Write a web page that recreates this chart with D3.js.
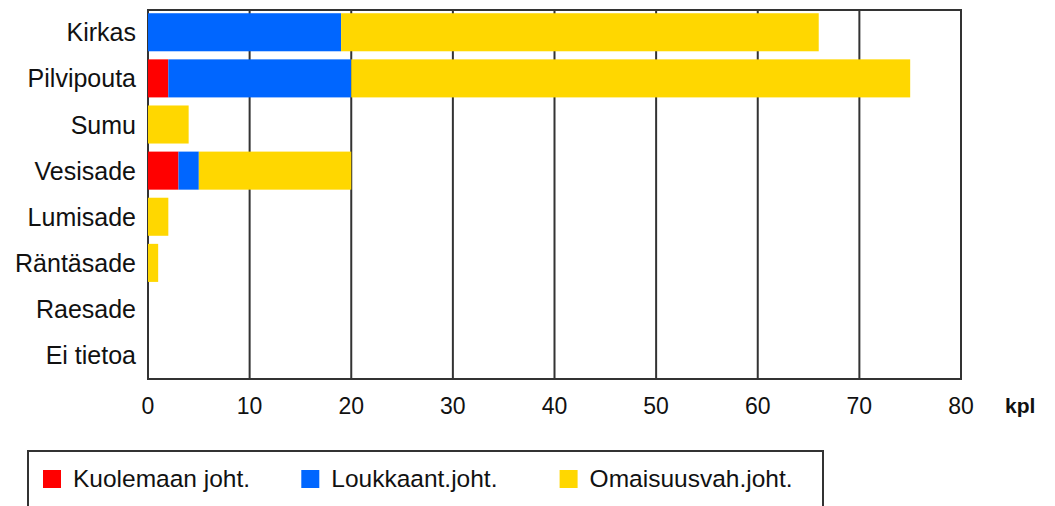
<!DOCTYPE html>
<html>
<head>
<meta charset="utf-8">
<script src="https://cdn.jsdelivr.net/npm/d3@7"></script>
<style>
  html, body { margin: 0; padding: 0; background: #fff; }
  svg { display: block; font-family: "Liberation Sans", Arial, sans-serif; }
</style>
</head>
<body>
<svg id="chart" width="1055" height="506"></svg>
<script>
// Onnettomuudet sääolosuhteittain (kpl)
const categories = ["Kirkas", "Pilvipouta", "Sumu", "Vesisade", "Lumisade", "Räntäsade", "Raesade", "Ei tietoa"];
const seriesNames = ["Kuolemaan joht.", "Loukkaant.joht.", "Omaisuusvah.joht."];
const kuolemaan   = [0, 2, 0, 3, 0, 0, 0, 0];
const loukkaant   = [19, 18, 0, 2, 0, 0, 0, 0];
const omaisuusvah = [47, 55, 4, 15, 2, 1, 0, 0];
const xTicks = [0, 10, 20, 30, 40, 50, 60, 70, 80];
const unitLabel = "kpl";
const colors = ["#ff0000", "#0066ff", "#ffd700"];

const rows = categories.map((c, i) => ({
  cat: c,
  [seriesNames[0]]: kuolemaan[i],
  [seriesNames[1]]: loukkaant[i],
  [seriesNames[2]]: omaisuusvah[i]
}));

const svg = d3.select("#chart");
const plot = { left: 148, right: 961, top: 10, bottom: 379 };
const gridColor = "#333";
const textColor = "#111";

const x = d3.scaleLinear().domain([0, 80]).range([plot.left, plot.right]);
const y = d3.scaleBand().domain(categories).range([plot.top, plot.bottom])
  .paddingInner(0.175).paddingOuter(0.0875).align(0.4);

// Vertical grid lines
svg.append("g").selectAll("line").data(xTicks).join("line")
  .attr("x1", d => x(d)).attr("x2", d => x(d))
  .attr("y1", plot.top).attr("y2", plot.bottom)
  .attr("stroke", gridColor).attr("stroke-width", 2);

// Frame
svg.append("rect")
  .attr("x", plot.left).attr("y", plot.top)
  .attr("width", plot.right - plot.left).attr("height", plot.bottom - plot.top)
  .attr("fill", "none").attr("stroke", gridColor).attr("stroke-width", 2);

// Stacked bars
const stack = d3.stack().keys(seriesNames)(rows);
svg.append("g").selectAll("g").data(stack).join("g")
  .attr("fill", (d, i) => colors[i])
  .selectAll("rect").data(d => d.filter(s => s[1] - s[0] > 0)).join("rect")
  .attr("x", d => x(d[0]))
  .attr("y", d => y(d.data.cat))
  .attr("width", d => x(d[1]) - x(d[0]))
  .attr("height", y.bandwidth());

// X axis tick labels
svg.append("g").selectAll("text").data(xTicks).join("text")
  .attr("x", d => x(d)).attr("y", 414)
  .attr("text-anchor", "middle")
  .attr("font-size", 23).attr("fill", textColor)
  .text(d => d);

svg.append("text")
  .attr("x", 1005).attr("y", 413)
  .attr("font-size", 21).attr("font-weight", "bold").attr("fill", textColor)
  .text(unitLabel);

// Category labels
svg.append("g").selectAll("text").data(categories).join("text")
  .attr("x", 136)
  .attr("y", d => y(d) + y.bandwidth() / 2)
  .attr("dy", "0.36em")
  .attr("text-anchor", "end")
  .attr("font-size", 25).attr("fill", textColor)
  .text(d => d);

// Legend
const legend = svg.append("g");
legend.append("rect")
  .attr("x", 28).attr("y", 451)
  .attr("width", 795).attr("height", 80)
  .attr("fill", "#fff").attr("stroke", gridColor).attr("stroke-width", 2);

const item = legend.selectAll("g.item").data(seriesNames).join("g")
  .attr("class", "item")
  .attr("transform", (d, i) => `translate(${43 + i * 258.3},0)`);
item.append("rect")
  .attr("x", 0).attr("y", 470).attr("width", 18).attr("height", 18)
  .attr("fill", (d, i) => colors[i]);
item.append("text")
  .attr("x", 30).attr("y", 487)
  .attr("font-size", 24.5).attr("fill", textColor)
  .text(d => d);
</script>
</body>
</html>
